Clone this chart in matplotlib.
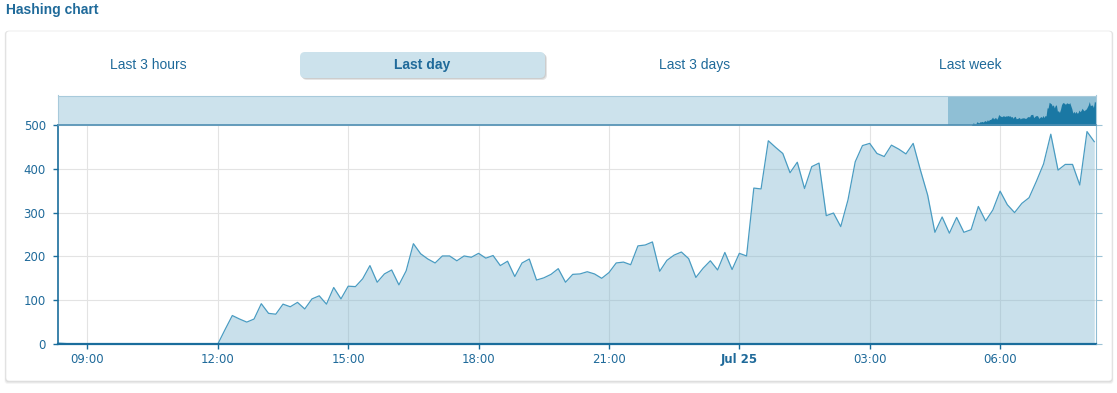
import matplotlib
matplotlib.use("Agg")
import matplotlib.pyplot as plt
from matplotlib.patches import FancyBboxPatch
import pandas as pd

# hashrate samples, one every 10 minutes, from Jul 24 08:20 to Jul 25 08:10
idle = [2, 1] + [0] * 20  # 08:20 .. 11:50
hashrate = idle + [
    0, 33, 65, 57, 50, 57,          # 12:00
    92, 70, 68, 91, 85, 95,         # 13:00
    80, 103, 110, 91, 129, 103,     # 14:00
    132, 131, 149, 179, 141, 160,   # 15:00
    169, 135, 167, 229, 206, 194,   # 16:00
    185, 201, 201, 190, 201, 198,   # 17:00
    207, 196, 202, 179, 189, 154,   # 18:00
    185, 194, 146, 151, 159, 172,   # 19:00
    141, 159, 160, 165, 160, 150,   # 20:00
    163, 185, 187, 181, 224, 226,   # 21:00
    233, 166, 191, 203, 210, 195,   # 22:00
    152, 173, 190, 169, 209, 170,   # 23:00
    207, 201, 356, 354, 464, 449,   # 00:00
    435, 391, 415, 355, 405, 413,   # 01:00
    293, 299, 268, 329, 416, 453,   # 02:00
    458, 435, 428, 454, 445, 434,   # 03:00
    458, 397, 340, 255, 290, 253,   # 04:00
    289, 255, 261, 314, 281, 306,   # 05:00
    349, 318, 300, 321, 334, 371,   # 06:00
    411, 479, 397, 410, 410, 363,   # 07:00
    485, 462,                       # 08:00
]
times = pd.date_range("2014-07-24 08:20", periods=len(hashrate), freq="10min")

tick_times = pd.date_range("2014-07-24 09:00", periods=8, freq="3h")
tick_labels = ["09:00", "12:00", "15:00", "18:00", "21:00", "Jul 25", "03:00", "06:00"]
y_ticks = [0, 100, 200, 300, 400, 500]
buttons = ["Last 3 hours", "Last day", "Last 3 days", "Last week"]

W, H = 1117, 393
fig = plt.figure(figsize=(W / 100, H / 100), dpi=100)
tr = fig.dpi_scale_trans


def P(x, y):
    return x / 100, (H - y) / 100


blue_txt = "#1f6a9a"

# card with soft shadow
for i, a in enumerate([0.04, 0.05, 0.06]):
    d = 3 - i
    fig.patches.append(FancyBboxPatch(P(6 - d * 0.5, 381 + d), (1106 + d) / 100, (350 + d) / 100,
                                      boxstyle="round,pad=0,rounding_size=0.03",
                                      transform=tr, fc="black", ec="none", alpha=a, zorder=-3))
fig.patches.append(FancyBboxPatch(P(6, 381), 1106 / 100, 350 / 100,
                                  boxstyle="round,pad=0,rounding_size=0.03",
                                  transform=tr, fc="white", ec="#e6e6e6", lw=0.5, zorder=-2))

fig.text(*P(6, 10), "Hashing chart", transform=tr, fontsize=10, fontweight="bold",
         family="Liberation Sans", color=blue_txt, va="center", ha="left")

# range selector buttons
btn_x = [148, 422, 695, 970]
for i in range(2):
    fig.patches.append(FancyBboxPatch(P(300 + 2 - i, 78 + 2 - i), 245 / 100, 26 / 100,
                                      boxstyle="round,pad=0,rounding_size=0.05",
                                      transform=tr, fc="black", ec="none", alpha=0.1, zorder=1))
fig.patches.append(FancyBboxPatch(P(300, 78), 245 / 100, 26 / 100,
                                  boxstyle="round,pad=0,rounding_size=0.05",
                                  transform=tr, fc="#cce2ec", ec="none", zorder=1))
for bx, label in zip(btn_x, buttons):
    fig.text(*P(bx, 65), label, transform=tr, fontsize=10, family="Liberation Sans",
             fontweight="bold" if label == "Last day" else "normal",
             color=blue_txt, ha="center", va="center", zorder=2)

x0, x1 = pd.Timestamp("2014-07-24 08:19:20"), pd.Timestamp("2014-07-25 08:12:00")

# main chart
ax = fig.add_axes([58 / W, 49 / H, (1095.7 - 58) / W, 219 / H])
ax.set_facecolor("none")
ax.fill_between(times, hashrate, color="#78b2cd", alpha=0.4, lw=0)
ax.plot(times, hashrate, color="#4a9cc2", lw=0.9)
ax.set_xlim(x0, x1)
ax.set_ylim(0, 500)
ax.set_yticks(y_ticks)
ax.set_xticks(tick_times)
ax.set_xticklabels(tick_labels)
ax.get_xticklabels()[5].set_fontweight("bold")
ax.grid(color="#e3e3e3", lw=0.8)
ax.set_axisbelow(True)
ax.tick_params(axis="both", direction="out", length=3.8, width=1, color="#1a6d9c",
               labelcolor=blue_txt, labelsize=8.5)
ax.tick_params(axis="y", pad=5)
ax.tick_params(axis="x", pad=3)
ax.spines["top"].set_visible(False)
ax.spines["left"].set_color("#1a6d9c")
ax.spines["left"].set_linewidth(1.2)
ax.spines["bottom"].set_color("#1a6d9c")
ax.spines["bottom"].set_linewidth(1.6)
ax.spines["right"].set_color("#8fbcd3")

ax_r = ax.twinx()
ax_r.set_ylim(0, 500)
ax_r.set_yticks(y_ticks)
ax_r.tick_params(axis="y", direction="out", length=4, color="#9cc3d6", labelright=False)
for s in ax_r.spines.values():
    s.set_visible(False)

# navigator
nav = fig.add_axes([58 / W, 268 / H, (1095.7 - 58) / W, 29.5 / H])
nav.set_facecolor("#cce2ec")
nav.axvspan(x0, x1, color="#8fbfd5", lw=0)
nav.fill_between(times, hashrate, color="#1a78a4", lw=0)
nav.set_xlim(x1 - pd.Timedelta(days=7), x1)
nav.set_ylim(25, 595)
nav.set_xticks([])
nav.set_yticks([])
for s in nav.spines.values():
    s.set_color("#a8cadb")
    s.set_linewidth(0.8)
nav.spines["bottom"].set_color("#4f8fb3")
nav.spines["bottom"].set_linewidth(1.2)

fig.savefig("out.png", dpi=100)
